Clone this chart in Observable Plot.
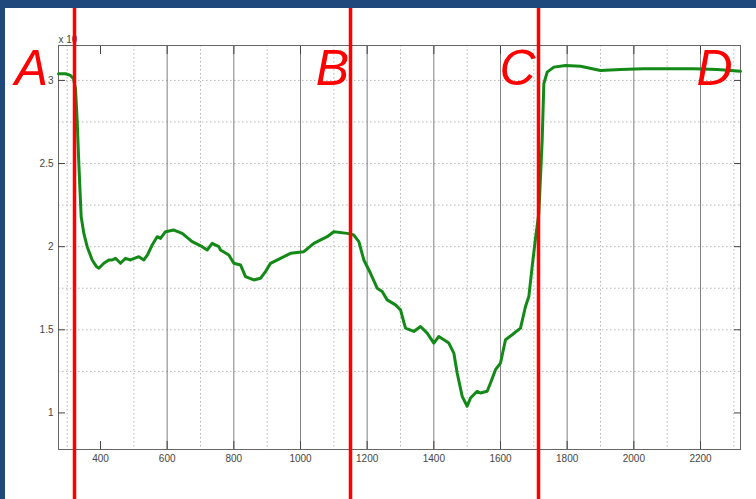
<!DOCTYPE html>
<html>
<head>
<meta charset="utf-8">
<script src="https://cdn.jsdelivr.net/npm/d3@7"></script>
<script src="https://cdn.jsdelivr.net/npm/@observablehq/plot@0.6"></script>
<style>
  html, body { margin: 0; padding: 0; background: #1f497d; width: 756px; height: 499px; overflow: hidden; }
  #card { position: absolute; left: 5px; top: 8px; width: 751px; height: 491px; background: #ffffff; overflow: hidden; }
  #card svg { overflow: visible; }
</style>
</head>
<body>
<div id="card"></div>
<script>
// ---- data ----
const waveX = [274, 295, 310, 319, 325, 330, 334, 338, 342, 350, 360, 375, 388, 395, 410, 425, 435, 445, 460, 475, 490, 515, 530, 541, 555, 570, 580, 595, 620, 645, 675, 705, 720, 735, 755, 760, 785, 800, 820, 835, 860, 880, 895, 910, 940, 970, 1010, 1040, 1080, 1100, 1140, 1160, 1175, 1190, 1210, 1230, 1245, 1260, 1285, 1300, 1315, 1340, 1360, 1380, 1400, 1415, 1430, 1445, 1460, 1470, 1485, 1500, 1510, 1530, 1540, 1560, 1570, 1585, 1600, 1615, 1635, 1660, 1675, 1685, 1695, 1705, 1715, 1725, 1730, 1740, 1760, 1795, 1840, 1900, 1960, 2029, 2100, 2180, 2250, 2320];
const waveY = [3.04, 3.04, 3.03, 3.01, 2.95, 2.76, 2.55, 2.36, 2.18, 2.08, 2.00, 1.92, 1.88, 1.87, 1.90, 1.92, 1.92, 1.93, 1.90, 1.93, 1.92, 1.94, 1.92, 1.95, 2.01, 2.06, 2.05, 2.09, 2.10, 2.08, 2.03, 2.00, 1.98, 2.02, 2.00, 1.98, 1.95, 1.90, 1.89, 1.82, 1.80, 1.81, 1.85, 1.90, 1.93, 1.96, 1.97, 2.02, 2.06, 2.09, 2.08, 2.07, 2.03, 1.92, 1.84, 1.75, 1.73, 1.68, 1.65, 1.62, 1.51, 1.49, 1.52, 1.48, 1.42, 1.46, 1.44, 1.42, 1.36, 1.24, 1.10, 1.04, 1.09, 1.13, 1.12, 1.13, 1.18, 1.26, 1.30, 1.44, 1.47, 1.51, 1.64, 1.70, 1.88, 2.05, 2.20, 2.64, 2.98, 3.05, 3.08, 3.09, 3.085, 3.06, 3.065, 3.07, 3.07, 3.07, 3.065, 3.055];

const xTicks = [400, 600, 800, 1000, 1200, 1400, 1600, 1800, 2000, 2200];
const xMajorGrid = [600, 800, 1000, 1200, 1400, 1600, 1800, 2000, 2200];
const xMinorGrid = [300, 500, 700, 900, 1100, 1300, 1500, 1700, 1900, 2100, 2300];
const yTicks = [1, 1.5, 2, 2.5, 3];
const yMinorGrid = [1.25, 1.5, 1.75, 2, 2.25, 2.5, 2.75, 3];

const boundaryX = [322, 1150, 1714];
const letterLabels = ["A", "B", "C", "D"];
const letterX = [193, 1096, 1651, 2242];
const letterY = [3.07, 3.07, 3.07, 3.07];

const xDomain = [274, 2320];
const yDomain = [0.78, 3.21];

const wave = waveX.map((x, i) => ({x, y: waveY[i]}));
const letters = letterLabels.map((t, i) => ({t, x: letterX[i], y: letterY[i]}));

const axisFont = {fontSize: 10, fill: "#444"};

const chart = Plot.plot({
  width: 751,
  height: 491,
  marginLeft: 53,
  marginRight: 16,
  marginTop: 37,
  marginBottom: 50,
  style: {fontFamily: "'Liberation Sans', Arial, sans-serif", background: "transparent", overflow: "visible"},
  x: {domain: xDomain, label: null},
  y: {domain: yDomain, label: null},
  marks: [
    Plot.ruleX(xMinorGrid, {stroke: "#b5b5b5", strokeDasharray: "1.5,2.5", strokeWidth: 1}),
    Plot.ruleY(yMinorGrid, {stroke: "#b5b5b5", strokeDasharray: "1.5,2.5", strokeWidth: 1}),
    Plot.ruleX(xMajorGrid, {stroke: "#808080", strokeWidth: 1}),
    Plot.frame({stroke: "#666", strokeWidth: 1}),
    Plot.axisX({ticks: xTicks, anchor: "bottom", tickSize: -8, tickPadding: 13, tickFormat: d => String(d), stroke: "#444", label: null, ...axisFont}),
    Plot.axisX({ticks: xTicks, anchor: "top", tickSize: -8, tickFormat: () => "", stroke: "#444", label: null}),
    Plot.axisY({ticks: yTicks, anchor: "left", tickSize: -7, tickPadding: 12, tickFormat: d => String(d), stroke: "#444", label: null, ...axisFont}),
    Plot.axisY({ticks: yTicks, anchor: "right", tickSize: -7, tickFormat: () => "", stroke: "#444", label: null}),
    Plot.text(["x 10"], {frameAnchor: "top-left", textAnchor: "start", lineAnchor: "bottom", dx: 0, dy: -3, fontSize: 10, fill: "#444"}),
    Plot.line(wave, {x: "x", y: "y", stroke: "#138a17", strokeWidth: 3, strokeLinejoin: "round"}),
    Plot.ruleX(boundaryX, {y1: 3.45, y2: 0.45, stroke: "#ff0000", strokeWidth: 3.5}),
    Plot.text(letters, {x: "x", y: "y", text: "t", fill: "#ff0000", fontSize: 50, fontStyle: "italic", textAnchor: "middle", lineAnchor: "middle"})
  ]
});
document.getElementById("card").appendChild(chart);
</script>
</body>
</html>
